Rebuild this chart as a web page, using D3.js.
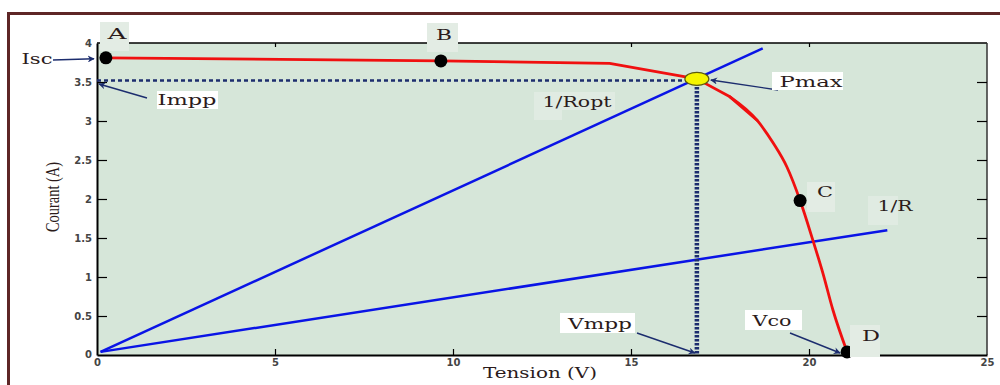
<!DOCTYPE html>
<html>
<head>
<meta charset="utf-8">
<script src="https://cdn.jsdelivr.net/npm/d3@7"></script>
<style>
  html, body { margin: 0; padding: 0; background: #fff; }
  svg { display: block; }
</style>
</head>
<body>
<svg id="chart" width="1000" height="385"></svg>
<script>
// I-V characteristic of a PV panel: tension (V) vs courant (A)
const curveV = [0.25, 9.66, 14.4, 16.85, 17.78, 18.54, 18.99, 19.38, 19.75, 20.11, 20.39, 20.67, 21.07];
const curveI = [3.81, 3.77, 3.74, 3.54, 3.31, 3.01, 2.72, 2.41, 1.98, 1.47, 1.05, 0.58, 0.04];

// Operating points A, B, C, D
const pointNames = ["A", "B", "C", "D"];
const pointV = [0.25, 9.66, 19.75, 21.07];
const pointI = [3.81, 3.77, 1.98, 0.04];

// Maximum power point
const vmpp = 16.85;
const impp = 3.54;

// Load lines through the origin: [V start, I start, V end, I end]
const loadRopt = [0.1, 0.04, 18.7, 3.93];
const loadR = [0.1, 0.04, 22.2, 1.6];

// Axis ticks
const xTicks = [0, 5, 10, 15, 20, 25];
const yTicks = [0, 0.5, 1, 1.5, 2, 2.5, 3, 3.5, 4];
const yTickLabels = ["0", "0.5", "1", "1.5", "2", "2.5", "3", "3.5", "4"];

const svg = d3.select("#chart");
const plotL = 97, plotR = 987, plotT = 43, plotB = 355;
const x = d3.scaleLinear().domain([0, 25]).range([plotL, plotR]);
const y = d3.scaleLinear().domain([0, 4]).range([plotB, plotT]);

const navy = "#1c2d6e";
const ink = "#2b1b1b";

// outer frame
svg.append("path")
  .attr("d", "M8.5,386 L8.5,13.5 L1001,13.5")
  .attr("fill", "none").attr("stroke", "#5e2626").attr("stroke-width", 3);

// plot background
svg.append("rect")
  .attr("x", plotL).attr("y", plotT)
  .attr("width", plotR - plotL).attr("height", plotB - plotT)
  .attr("fill", "#d6e6d9");

// arrow marker
const defs = svg.append("defs");
defs.append("marker")
  .attr("id", "arrow").attr("viewBox", "0 0 10 10")
  .attr("refX", 9).attr("refY", 5)
  .attr("markerWidth", 9).attr("markerHeight", 7)
  .attr("markerUnits", "userSpaceOnUse")
  .attr("orient", "auto")
  .append("path").attr("d", "M0,0 L10,5 L0,10 L3,5 Z").attr("fill", navy);

// axes frame with inward ticks
const frame = svg.append("g");
frame.append("line").attr("x1", plotL).attr("x2", plotR).attr("y1", plotT).attr("y2", plotT)
  .attr("stroke", "#000").attr("stroke-width", 1.5);
frame.append("line").attr("x1", plotR).attr("x2", plotR).attr("y1", plotT).attr("y2", plotB)
  .attr("stroke", "#333").attr("stroke-width", 1.5);

const xAxis = svg.append("g").attr("transform", `translate(0,${plotB})`)
  .call(d3.axisBottom(x).tickValues(xTicks).tickSizeInner(-6).tickSizeOuter(0).tickPadding(4));
const xTop = svg.append("g").attr("transform", `translate(0,${plotT})`)
  .call(d3.axisTop(x).tickValues(xTicks.slice(1, -1)).tickSizeInner(-4).tickSizeOuter(0).tickFormat(""));
const yAxis = svg.append("g").attr("transform", `translate(${plotL},0)`)
  .call(d3.axisLeft(y).tickValues(yTicks.slice(1)).tickSizeInner(-10).tickSizeOuter(0).tickPadding(5)
    .tickFormat((d, i) => yTickLabels[i + 1]));
const yRight = svg.append("g").attr("transform", `translate(${plotR},0)`)
  .call(d3.axisRight(y).tickValues(yTicks.slice(1, -1)).tickSizeInner(-10).tickSizeOuter(0).tickFormat(""));

[xAxis, yAxis, xTop, yRight].forEach(g => {
  g.selectAll(".tick line").attr("stroke", "#000").attr("stroke-width", 1.2);
  g.selectAll("text")
    .attr("font-family", "DejaVu Sans").attr("font-weight", "bold")
    .attr("font-size", 10).attr("fill", "#444");
});
xAxis.select(".domain").attr("stroke", "#000").attr("stroke-width", 2);
yAxis.select(".domain").attr("stroke", "#000").attr("stroke-width", 2);
xTop.select(".domain").remove();
yRight.select(".domain").remove();
xAxis.selectAll(".tick").filter(d => d === 0).select("line").remove();
xAxis.selectAll(".tick").filter(d => d === 25).select("line").remove();
yAxis.selectAll(".tick").filter(d => d === 4).select("line").remove();

// "0" of the courant axis
svg.append("text").attr("x", plotL - 5).attr("y", y(0)).attr("dy", "0.32em")
  .attr("text-anchor", "end")
  .attr("font-family", "DejaVu Sans").attr("font-weight", "bold")
  .attr("font-size", 10).attr("fill", "#444").text("0");

// load lines
const lines = svg.append("g").attr("fill", "none").attr("stroke", "#0a14e6").attr("stroke-width", 2.5);
[loadRopt, loadR].forEach(l => {
  lines.append("line")
    .attr("x1", x(l[0])).attr("y1", y(l[1]))
    .attr("x2", x(l[2])).attr("y2", y(l[3]));
});

// Impp and Vmpp projections
svg.append("line")
  .attr("x1", x(0)).attr("x2", x(vmpp)).attr("y1", y(impp - 0.02)).attr("y2", y(impp - 0.02))
  .attr("stroke", navy).attr("stroke-width", 2.5).attr("stroke-dasharray", "4,3");
svg.append("line")
  .attr("x1", x(vmpp)).attr("x2", x(vmpp)).attr("y1", y(impp)).attr("y2", y(0))
  .attr("stroke", navy).attr("stroke-width", 4.5).attr("stroke-dasharray", "2.5,1.5");

// I-V curve: straight segments near the knee, smooth tail down to Vco
const curveData = curveV.map((v, i) => [v, curveI[i]]);
const knee = 5;
const curveStyle = p => p.attr("fill", "none").attr("stroke", "#f01010")
  .attr("stroke-width", 2.8).attr("stroke-linejoin", "round").attr("stroke-linecap", "round");
svg.append("path")
  .datum(curveData.slice(0, knee + 1))
  .attr("d", d3.line().x(d => x(d[0])).y(d => y(d[1])))
  .call(curveStyle);
svg.append("path")
  .datum(curveData.slice(knee - 1))
  .attr("d", d3.line().curve(d3.curveMonotoneX).x(d => x(d[0])).y(d => y(d[1])))
  .call(curveStyle);

// operating points
svg.append("g").selectAll("circle")
  .data(pointNames.map((n, i) => ({ n, v: pointV[i], c: pointI[i] })))
  .join("circle")
  .attr("cx", d => x(d.v)).attr("cy", d => y(d.c)).attr("r", 6.5)
  .attr("fill", "#000");

// maximum power point
svg.append("ellipse")
  .attr("cx", x(vmpp)).attr("cy", y(impp)).attr("rx", 12).attr("ry", 6.5)
  .attr("fill", "#f5f500").attr("stroke", "#5b5a10").attr("stroke-width", 1.2);

// annotation arrows
const arrows = [
  [53, 60, 94, y(3.81) + 1],
  [147, 98, 99, y(3.5) + 2],
  [778, 90, x(vmpp) + 14, 80],
  [637, 333, x(vmpp) - 2, 353],
  [790, 333, x(21.07) - 7, 353]
];
svg.append("g").selectAll("line").data(arrows).join("line")
  .attr("x1", d => d[0]).attr("y1", d => d[1])
  .attr("x2", d => d[2]).attr("y2", d => d[3])
  .attr("stroke", navy).attr("stroke-width", 1.4)
  .attr("marker-end", "url(#arrow)");

// labels: [text, cx, cy, width, boxes [[x0,y0,x1,y1], ...], box colour]
const labels = [
  ["A", 117, 34, 19, [[100, 22, 129, 51]], "#e3ece4"],
  ["B", 444, 35, 16, [[427, 23, 458, 52]], "#e3ece4"],
  ["C", 825, 192, 16, [[807, 182, 835, 212]], "#e3ece4"],
  ["D", 871, 336, 18, [[850, 325, 880, 357]], "#e3ece4"],
  ["Isc", 37, 59, 31, [], null],
  ["Impp", 187, 100, 59, [[157, 91, 218, 109]], "#ffffff"],
  ["1/Ropt", 577, 102, 69, [[534, 92, 615, 110], [534, 92, 562, 120]], "#e0ebe2"],
  ["Pmax", 811, 82, 63, [[772, 72, 843, 90]], "#ffffff"],
  ["1/R", 895, 206, 35, [[868, 196, 898, 225]], "#e0ebe2"],
  ["Vmpp", 600, 324, 64, [[560, 313, 635, 333]], "#ffffff"],
  ["Vco", 772, 321, 39, [[745, 310, 802, 330]], "#ffffff"]
];
const lab = svg.append("g");
labels.forEach(([t, cx, cy, w, boxes, col]) => {
  boxes.forEach(box => {
    lab.append("rect").attr("x", box[0]).attr("y", box[1])
      .attr("width", box[2] - box[0]).attr("height", box[3] - box[1])
      .attr("fill", col);
  });
  lab.append("text")
    .attr("x", cx - w / 2).attr("y", cy).attr("dy", "0.36em")
    .attr("textLength", w).attr("lengthAdjust", "spacingAndGlyphs")
    .attr("font-family", "DejaVu Serif").attr("font-size", 14)
    .attr("fill", ink).text(t);
});

// axis titles
svg.append("text")
  .attr("x", 483).attr("y", 373).attr("dy", "0.36em")
  .attr("textLength", 114).attr("lengthAdjust", "spacingAndGlyphs")
  .attr("font-family", "DejaVu Serif").attr("font-size", 15)
  .attr("fill", ink).text("Tension (V)");
svg.append("text")
  .attr("transform", "translate(53,232) rotate(-90)")
  .attr("dy", "0.36em")
  .attr("textLength", 70).attr("lengthAdjust", "spacingAndGlyphs")
  .attr("font-family", "Liberation Serif").attr("font-size", 18)
  .attr("fill", ink).text("Courant (A)");
</script>
</body>
</html>
